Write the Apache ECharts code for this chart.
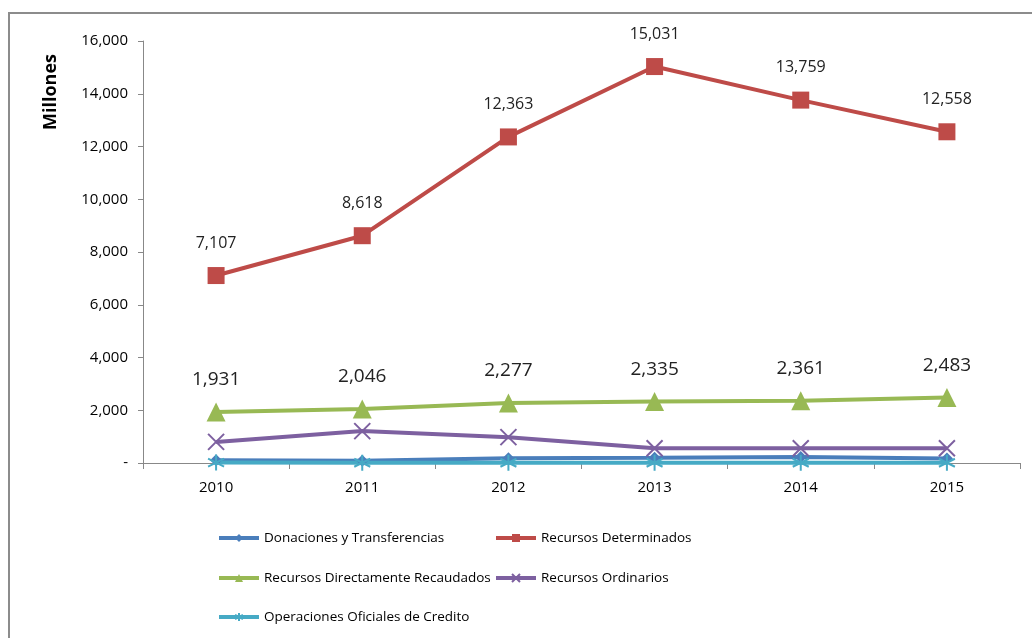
<!DOCTYPE html>
<html>
<head>
<meta charset="utf-8">
<script src="https://cdn.jsdelivr.net/npm/echarts@6/dist/echarts.min.js"></script>
<style>
    html, body { margin: 0; padding: 0; background: #fff; }
    #chart { width: 1032px; height: 638px; }
</style>
</head>
<body>
<div id="chart"></div>
<script>
    // años
    var years = ['2010', '2011', '2012', '2013', '2014', '2015'];

    // millones por fuente
    var donaciones = [100, 90, 180, 200, 230, 170];
    var determinados = [7107, 8618, 12363, 15031, 13759, 12558];
    var directamente = [1931, 2046, 2277, 2335, 2361, 2483];
    var ordinarios = [800, 1210, 980, 560, 560, 560];
    var operaciones = [15, 10, 10, 10, 10, 10];

    var names = ['Donaciones y Transferencias', 'Recursos Determinados',
        'Recursos Directamente Recaudados', 'Recursos Ordinarios',
        'Operaciones Oficiales de Credito'];

    var fontFam = '"Open Sans", "Liberation Sans", Arial, sans-serif';
    var crossPath = 'path://M0,0 L10,10 M10,0 L0,10';
    var starPath = 'path://M5,0 L5,10 M0.7,2.5 L9.3,7.5 M0.7,7.5 L9.3,2.5';

    function fmt(p) {
        return p.value.toLocaleString('en-US');
    }

    function legendAt(name, left, top) {
        return {
            data: [name],
            left: left,
            top: top,
            itemWidth: 40,
            itemHeight: 10,
            itemGap: 4,
            lineStyle: {width: 4},
            textStyle: {color: '#000', fontSize: 13.5, fontFamily: fontFam}
        };
    }

    var chart = echarts.init(document.getElementById('chart'));
    var option = {
        animation: false,
        grid: {left: 143, right: 12, top: 41, bottom: 175},
        graphic: [
            {
                type: 'rect',
                shape: {x: 9, y: 13, width: 1100, height: 700},
                style: {fill: 'none', stroke: '#8c8c8c', lineWidth: 2},
                silent: true
            },
            {
                type: 'text',
                x: 51, y: 92,
                rotation: Math.PI / 2,
                style: {
                    text: 'Millones', fill: '#000', fontSize: 18, fontWeight: 'bold',
                    fontFamily: fontFam, align: 'center', verticalAlign: 'middle'
                }
            }
        ],
        legend: [
            legendAt(names[0], 212, 526),
            legendAt(names[1], 489, 526),
            legendAt(names[2], 212, 566),
            legendAt(names[3], 489, 566),
            legendAt(names[4], 212, 605)
        ],
        xAxis: {
            type: 'category',
            data: years,
            boundaryGap: true,
            axisLine: {lineStyle: {color: '#888', width: 1}},
            axisTick: {show: true, length: 6, lineStyle: {color: '#888'}},
            axisLabel: {color: '#000', fontSize: 15, fontFamily: fontFam, margin: 17}
        },
        yAxis: {
            type: 'value',
            min: 0,
            max: 16000,
            interval: 2000,
            axisLine: {show: true, lineStyle: {color: '#888'}},
            axisTick: {show: true, length: 5, lineStyle: {color: '#888'}},
            splitLine: {show: false},
            axisLabel: {
                color: '#000', fontSize: 15, fontFamily: fontFam, margin: 15,
                formatter: function (v) {
                    return v === 0 ? '-' : v.toLocaleString('en-US');
                }
            }
        },
        series: [
            {
                name: names[0], type: 'line', data: donaciones,
                symbol: 'diamond', symbolSize: 12,
                lineStyle: {color: '#4A7EBB', width: 4},
                itemStyle: {color: '#4A7EBB'}
            },
            {
                name: names[1], type: 'line', data: determinados,
                symbol: 'rect', symbolSize: 17,
                lineStyle: {color: '#BE4B48', width: 4},
                itemStyle: {color: '#BE4B48'},
                label: {
                    show: true, position: 'top', distance: 16,
                    color: '#222', fontSize: 16, fontFamily: fontFam,
                    formatter: fmt
                }
            },
            {
                name: names[2], type: 'line', data: directamente,
                symbol: 'triangle', symbolSize: 19,
                lineStyle: {color: '#98B954', width: 4},
                itemStyle: {color: '#98B954'},
                label: {
                    show: true, position: 'top', distance: 13,
                    color: '#222', fontSize: 19, fontFamily: fontFam,
                    formatter: fmt
                }
            },
            {
                name: names[3], type: 'line', data: ordinarios,
                symbol: crossPath, symbolSize: 16,
                lineStyle: {color: '#7D60A0', width: 4},
                itemStyle: {color: '#7D60A0', borderColor: '#7D60A0', borderWidth: 2}
            },
            {
                name: names[4], type: 'line', data: operaciones,
                symbol: starPath, symbolSize: 16,
                lineStyle: {color: '#46AAC5', width: 4},
                itemStyle: {color: '#46AAC5', borderColor: '#46AAC5', borderWidth: 2}
            }
        ]
    };
    chart.setOption(option);
    window.addEventListener('resize', function () {
        chart.resize();
    });
</script>
</body>
</html>
